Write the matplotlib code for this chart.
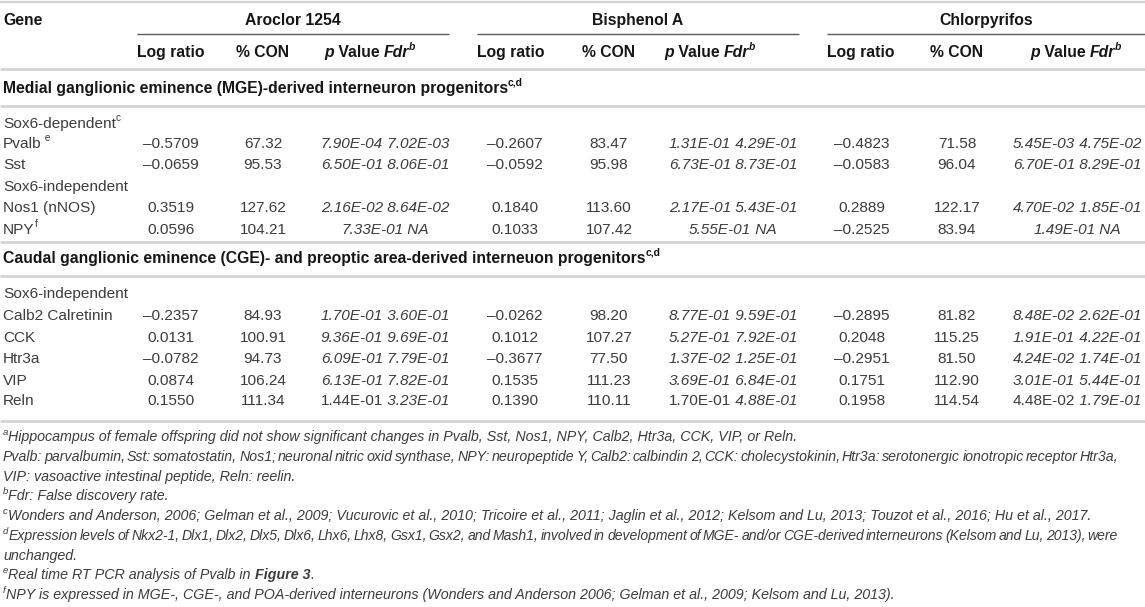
import matplotlib
matplotlib.use("Agg")
import matplotlib.pyplot as plt

# ---------------- data ----------------
compounds = ["Aroclor 1254", "Bisphenol A", "Chlorpyrifos"]
sub_headers = ["Log ratio", "% CON"]
section1 = "Medial ganglionic eminence (MGE)-derived interneuron progenitors"
section2 = "Caudal ganglionic eminence (CGE)- and preoptic area-derived interneuon progenitors"

genes1 = ["Pvalb", "Sst", "Nos1 (nNOS)", "NPY"]
genes1_sup = [" e", "", "", "f"]
genes2 = ["Calb2 Calretinin", "CCK", "Htr3a", "VIP", "Reln"]

aro_log = ["\u20130.5709", "\u20130.0659", "0.3519", "0.0596",
           "\u20130.2357", "0.0131", "\u20130.0782", "0.0874", "0.1550"]
aro_con = ["67.32", "95.53", "127.62", "104.21", "84.93", "100.91", "94.73", "106.24", "111.34"]
aro_p = ["7.90E-04", "6.50E-01", "2.16E-02", "7.33E-01", "1.70E-01", "9.36E-01", "6.09E-01", "6.13E-01", "1.44E-01"]
aro_fdr = ["7.02E-03", "8.06E-01", "8.64E-02", "NA", "3.60E-01", "9.69E-01", "7.79E-01", "7.82E-01", "3.23E-01"]

bpa_log = ["\u20130.2607", "\u20130.0592", "0.1840", "0.1033",
           "\u20130.0262", "0.1012", "\u20130.3677", "0.1535", "0.1390"]
bpa_con = ["83.47", "95.98", "113.60", "107.42", "98.20", "107.27", "77.50", "111.23", "110.11"]
bpa_p = ["1.31E-01", "6.73E-01", "2.17E-01", "5.55E-01", "8.77E-01", "5.27E-01", "1.37E-02", "3.69E-01", "1.70E-01"]
bpa_fdr = ["4.29E-01", "8.73E-01", "5.43E-01", "NA", "9.59E-01", "7.92E-01", "1.25E-01", "6.84E-01", "4.88E-01"]

cpf_log = ["\u20130.4823", "\u20130.0583", "0.2889", "\u20130.2525",
           "\u20130.2895", "0.2048", "\u20130.2951", "0.1751", "0.1958"]
cpf_con = ["71.58", "96.04", "122.17", "83.94", "81.82", "115.25", "81.50", "112.90", "114.54"]
cpf_p = ["5.45E-03", "6.70E-01", "4.70E-02", "1.49E-01", "8.48E-02", "1.91E-01", "4.24E-02", "3.01E-01", "4.48E-02"]
cpf_fdr = ["4.75E-02", "8.29E-01", "1.85E-01", "NA", "2.62E-01", "4.22E-01", "1.74E-01", "5.44E-01", "1.79E-01"]

# p values printed upright (not italic) – the Reln row
p_upright = [False] * 8 + [True]

foot_a = "Hippocampus of female offspring did not show significant changes in Pvalb, Sst, Nos1, NPY, Calb2, Htr3a, CCK, VIP, or Reln."
foot_a2 = "Pvalb: parvalbumin, Sst: somatostatin, Nos1; neuronal nitric oxid synthase, NPY: neuropeptide Y, Calb2: calbindin 2, CCK: cholecystokinin, Htr3a: serotonergic ionotropic receptor Htr3a,"
foot_a3 = "VIP: vasoactive intestinal peptide, Reln: reelin."
foot_b = "Fdr: False discovery rate."
foot_c = "Wonders and Anderson, 2006; Gelman et al., 2009; Vucurovic et al., 2010; Tricoire et al., 2011; Jaglin et al., 2012; Kelsom and Lu, 2013; Touzot et al., 2016; Hu et al., 2017."
foot_d = "Expression levels of Nkx2-1, Dlx1, Dlx2, Dlx5, Dlx6, Lhx6, Lhx8, Gsx1, Gsx2, and Mash1, involved in development of MGE- and/or CGE-derived interneurons (Kelsom and Lu, 2013), were"
foot_d2 = "unchanged."
foot_e = "Real time RT PCR analysis of Pvalb in "
foot_e_bold = "Figure 3"
foot_f = "NPY is expressed in MGE-, CGE-, and POA-derived interneurons (Wonders and Anderson 2006; Gelman et al., 2009; Kelsom and Lu, 2013)."

# ---------------- figure ----------------
W, H = 1145, 607
fig = plt.figure(figsize=(W / 100, H / 100), dpi=100)
ax = fig.add_axes([0, 0, 1, 1])
ax.set_xlim(0, W)
ax.set_ylim(H, 0)
ax.axis("off")
renderer = fig.canvas.get_renderer()

FONT = "Liberation Sans"
FS = 11.1      # body
FSB = 11.3     # bold headers
FSF = 10.3     # footnotes
TXT = "#3c3c3c"
BLK = "#161616"
LINE = "#d0d0d0"


def make(s, size, w, st, color):
    t = ax.text(0, 0, s, fontsize=size, fontweight=w, fontstyle=st, family=FONT,
                color=color, va="baseline", ha="left")
    return t, t.get_window_extent(renderer).width


def runs(x, y, pieces, ha="left", size=FS, color=TXT):
    """pieces: list of (text, weight, style, sup) drawn consecutively on baseline y."""
    arts = []
    for s, w, st, sup in pieces:
        fs = size * (0.66 if sup else 1.0)
        t, wd = make(s, fs, w, st, color)
        t.set_y(y - (size * 0.62 if sup else 0))
        arts.append((t, wd))
    total = sum(wd for _, wd in arts)
    x0 = {"center": x - total / 2, "right": x - total}.get(ha, x)
    for t, wd in arts:
        t.set_x(x0)
        x0 += wd
    return x0


def justified(x0, x1, y, line, size=FSF, style="italic", color=TXT, min_gap=0.55):
    words = line.split(" ")
    n = len(words) - 1
    probe = [make(wd, size, "normal", style, color) for wd in words]
    total = sum(w for _, w in probe)
    for t, _ in probe:
        t.remove()
    space = 0.278 * size * 100 / 72
    need = total + n * min_gap * space
    if need > (x1 - x0):
        size = size * (x1 - x0) / need
    arts = [make(wd, size, "normal", style, color) for wd in words]
    total = sum(w for _, w in arts)
    gap = (x1 - x0 - total) / n
    x = x0
    for t, w in arts:
        t.set_x(x)
        t.set_y(y)
        x += w + gap


def hline(y, x0, x1, color=LINE, lw=1.8):
    ax.plot([x0, x1], [y, y], color=color, lw=lw, solid_capstyle="butt")


B = 5  # baseline offset from row centre

# rules
hline(1.5, 0, W, lw=1.6)
hline(69, 0, W)
hline(106, 0, W)
hline(242, 0, W)
hline(276, 0, W)
hline(421, 0, W)
span = [(137, 449), (477, 799), (827, W)]
for x0, x1 in span:
    hline(33.5, x0, x1, color="#5a5a5a", lw=1.0)

# header row
runs(3, 20 + B, [("Gene", "bold", "normal", False)], size=FSB, color=BLK)
for c, (x0, x1) in zip(compounds, span):
    runs((x0 + x1) / 2, 20 + B, [(c, "bold", "normal", False)], ha="center", size=FSB, color=BLK)

con_hx = [263, 609, 957]
p_hx = [370, 710, 1076]
for i in range(3):
    runs(span[i][0], 52 + B, [(sub_headers[0], "bold", "normal", False)], size=FSB, color=BLK)
    runs(con_hx[i], 52 + B, [(sub_headers[1], "bold", "normal", False)], ha="center", size=FSB, color=BLK)
    runs(p_hx[i], 52 + B, [("p", "bold", "italic", False), (" Value ", "bold", "normal", False),
                           ("Fdr", "bold", "italic", False), ("b", "bold", "italic", True)],
         ha="center", size=FSB, color=BLK)

# sections
runs(3, 88 + B, [(section1, "bold", "normal", False), ("c,d", "bold", "normal", True)], size=FSB, color=BLK)
runs(3, 258 + B, [(section2, "bold", "normal", False), ("c,d", "bold", "normal", True)], size=FSB, color=BLK)

# group labels
runs(3, 123 + B, [("Sox6-dependent", "normal", "normal", False), ("c", "normal", "normal", True)])
runs(3, 186 + B, [("Sox6-independent", "normal", "normal", False)])
runs(3, 293 + B, [("Sox6-independent", "normal", "normal", False)])

row_y = [143, 164, 207, 229, 315, 337, 358, 380, 400]
gene_names = genes1 + genes2
gene_sups = genes1_sup + [""] * len(genes2)
for g, s, y in zip(gene_names, gene_sups, row_y):
    pcs = [(g, "normal", "normal", False)]
    if s:
        pcs.append((s, "normal", "normal", True))
    runs(3, y + B, pcs)

log_x = [171, 515, 862]
con_x = [263, 609, 957]
p_x = [385, 733, 1077]
series = [(aro_log, aro_con, aro_p, aro_fdr),
          (bpa_log, bpa_con, bpa_p, bpa_fdr),
          (cpf_log, cpf_con, cpf_p, cpf_fdr)]
for ci, (lg, cn, pv, fd) in enumerate(series):
    for r, y in enumerate(row_y):
        runs(log_x[ci], y + B, [(lg[r], "normal", "normal", False)], ha="center")
        runs(con_x[ci], y + B, [(cn[r], "normal", "normal", False)], ha="center")
        pst = "normal" if p_upright[r] else "italic"
        runs(p_x[ci], y + B, [(pv[r], "normal", pst, False), (" " + fd[r], "normal", "italic", False)],
             ha="center")

# footnotes
fy = [437, 457, 477, 496, 516, 536, 556, 575, 595]
FB = 4
runs(3, fy[0] + FB, [("a", "normal", "italic", True), (foot_a, "normal", "italic", False)], size=FSF)
justified(3, 1118, fy[1] + FB, foot_a2)
runs(3, fy[2] + FB, [(foot_a3, "normal", "italic", False)], size=FSF)
runs(3, fy[3] + FB, [("b", "normal", "italic", True), (foot_b, "normal", "italic", False)], size=FSF)
runs(3, fy[4] + FB, [("c", "normal", "italic", True), (foot_c, "normal", "italic", False)], size=FSF)
xs = runs(3, fy[5] + FB, [("d", "normal", "italic", True)], size=FSF)
justified(xs, 1118, fy[5] + FB, foot_d)
runs(3, fy[6] + FB, [(foot_d2, "normal", "italic", False)], size=FSF)
runs(3, fy[7] + FB, [("e", "normal", "italic", True), (foot_e, "normal", "italic", False),
                     (foot_e_bold, "bold", "italic", False), (".", "normal", "italic", False)], size=FSF)
runs(3, fy[8] + FB, [("f", "normal", "italic", True), (foot_f, "normal", "italic", False)], size=FSF)

fig.savefig("out.png", dpi=100)
